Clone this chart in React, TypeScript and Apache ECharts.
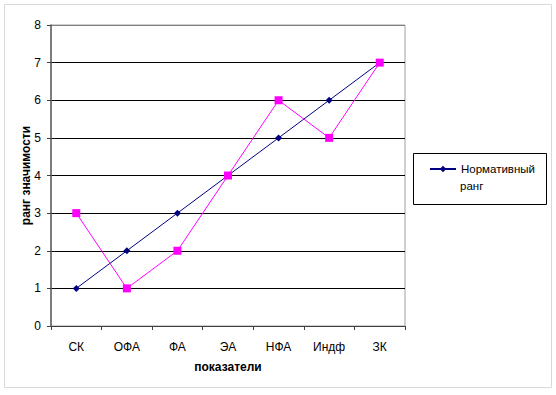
import React, { useEffect, useRef } from "react";
import * as echarts from "echarts";

const categories = ["СК", "ОФА", "ФА", "ЭА", "НФА", "Индф", "ЗК"];
const normativeRank = [1, 2, 3, 4, 5, 6, 7];
const actualRank = [3, 1, 2, 4, 6, 5, 7];
const seriesNames = ["Нормативный ранг", "Фактический ранг"];
const legendLines = ["Нормативный", "ранг"];
const yAxisName = "ранг значимости";
const xAxisName = "показатели";

const FONT = "'Liberation Sans', Arial, sans-serif";

export default function App() {
  const ref = useRef<HTMLDivElement>(null);
  useEffect(() => {
    if (!ref.current) return;
    const chart = echarts.init(ref.current, undefined, { renderer: "svg" });
    chart.setOption({
      animation: false,
      textStyle: { fontFamily: FONT, color: "#000" },
      graphic: [
        {
          type: "rect",
          shape: { x: 4.5, y: 4.5, width: 547, height: 383 },
          style: { fill: "none", stroke: "#d9d9d9", lineWidth: 1 },
          silent: true,
        },
        {
          type: "rect",
          shape: { x: 413.5, y: 153.5, width: 133, height: 51 },
          style: { fill: "none", stroke: "#000", lineWidth: 1 },
          silent: true,
        },
        {
          type: "text",
          left: 460,
          top: 180,
          style: { text: legendLines[1], fontFamily: FONT, fontSize: 11.5, fill: "#000" },
          silent: true,
        },
      ],
      grid: {
        left: 51,
        top: 25,
        width: 354,
        height: 301,
        show: true,
        borderColor: "#a0a0a0",
        borderWidth: 1,
        backgroundColor: "transparent",
      },
      legend: {
        data: [seriesNames[0]],
        left: 429,
        top: 163,
        orient: "vertical",
        itemWidth: 26,
        itemHeight: 8,
        itemGap: 4,
        padding: 0,
        formatter: () => legendLines[0],
        textStyle: { fontFamily: FONT, fontSize: 11.5, color: "#000" },
      },
      xAxis: {
        type: "category",
        data: categories,
        boundaryGap: true,
        name: xAxisName,
        nameLocation: "middle",
        nameGap: 35,
        nameMoveOverlap: false,
        nameTextStyle: { fontFamily: FONT, fontSize: 12, fontWeight: "bold", color: "#000" },
        axisLine: { lineStyle: { color: "#404040", width: 1 } },
        axisTick: { show: true, length: 4, lineStyle: { color: "#404040" } },
        axisLabel: { fontFamily: FONT, fontSize: 12, color: "#000", margin: 15 },
        splitLine: { show: false },
      },
      yAxis: {
        type: "value",
        min: 0,
        max: 8,
        interval: 1,
        name: yAxisName,
        nameLocation: "middle",
        nameGap: 19,
        nameRotate: 90,
        nameMoveOverlap: false,
        nameTextStyle: { fontFamily: FONT, fontSize: 12, fontWeight: "bold", color: "#000" },
        axisLine: { show: true, lineStyle: { color: "#606060", width: 1.5 } },
        axisTick: { show: true, length: 4, lineStyle: { color: "#404040" } },
        axisLabel: { fontFamily: FONT, fontSize: 12, color: "#000", margin: 10 },
        splitLine: {
          show: true,
          lineStyle: {
            color: ["#000", "#000", "#000", "#000", "#000", "#000", "#000", "#000", "#808080"],
            width: 1,
          },
        },
      },
      series: [
        {
          name: seriesNames[0],
          type: "line",
          data: normativeRank,
          symbol: "diamond",
          symbolSize: 7,
          itemStyle: { color: "#000080" },
          lineStyle: { color: "#000080", width: 1 },
          z: 3,
        },
        {
          name: seriesNames[1],
          type: "line",
          data: actualRank,
          symbol: "rect",
          symbolSize: 8,
          itemStyle: { color: "#ff00ff" },
          lineStyle: { color: "#ff00ff", width: 1 },
          z: 4,
        },
      ],
    });
    return () => chart.dispose();
  }, []);
  return (
    <div
      ref={ref}
      style={{ position: "absolute", left: 0, top: 0, width: 556, height: 395, background: "#fff" }}
    />
  );
}
